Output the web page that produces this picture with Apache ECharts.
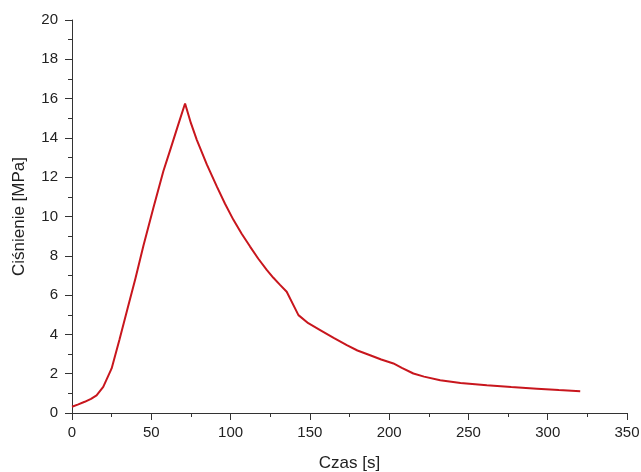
<!DOCTYPE html>
<html>
<head>
<meta charset="utf-8">
<script src="https://cdn.jsdelivr.net/npm/echarts@6/dist/echarts.min.js"></script>
<style>
  html, body { margin: 0; padding: 0; background: #fff; }
  #chart { width: 641px; height: 472px; }
</style>
</head>
<body>
<div id="chart"></div>
<script>
// czas [s] i ciśnienie [MPa]
var czas = [0, 4, 8, 12, 15.5, 19.7, 25, 30, 35, 40, 45, 51.3, 57.6, 61.8, 66.5, 71.3,
    75, 78.7, 85, 91.3, 96.5, 101.8, 107, 112.3, 117.5, 122.8, 127, 131.2, 135.4, 142.8,
    149, 156.5, 165, 173.3, 180, 188, 195, 202.7, 208, 215.3, 222, 232.2, 245, 261.6, 277, 293.2, 307, 320.5];
var cisnienie = [0.32, 0.44, 0.57, 0.72, 0.9, 1.33, 2.27, 3.75, 5.3, 6.85, 8.5, 10.43, 12.3, 13.35, 14.55, 15.75,
    14.75, 13.9, 12.65, 11.53, 10.65, 9.83, 9.12, 8.47, 7.85, 7.28, 6.88, 6.52, 6.17, 4.98,
    4.57, 4.22, 3.82, 3.45, 3.18, 2.94, 2.72, 2.52, 2.3, 2.01, 1.85, 1.67, 1.53, 1.41, 1.32, 1.24, 1.17, 1.11];

var xTicks = [0, 50, 100, 150, 200, 250, 300, 350];
var yTicks = [0, 2, 4, 6, 8, 10, 12, 14, 16, 18, 20];

var data = czas.map(function (t, i) { return [t, cisnienie[i]]; });

var chart = echarts.init(document.getElementById('chart'));

var axisCommon = {
    axisLine: { show: true, lineStyle: { color: '#333', width: 1 } },
    axisTick: { show: true, inside: false, length: 7, lineStyle: { color: '#333' } },
    minorTick: { show: true, splitNumber: 2, length: 4, lineStyle: { color: '#333' } },
    splitLine: { show: false },
    axisLabel: { color: '#222', fontSize: 15, fontFamily: 'Liberation Sans, Arial, sans-serif' },
    nameTextStyle: { color: '#222', fontSize: 17, fontFamily: 'Liberation Sans, Arial, sans-serif' }
};

var option = {
    animation: false,
    grid: { left: 72, right: 14, top: 20, bottom: 59, containLabel: false, outerBoundsMode: 'none' },
    xAxis: echarts.util.merge({
        type: 'value',
        min: xTicks[0],
        max: xTicks[xTicks.length - 1],
        interval: 50,
        name: 'Czas [s]',
        nameLocation: 'middle',
        nameGap: 42,
        axisLabel: { margin: 12 }
    }, axisCommon),
    yAxis: echarts.util.merge({
        type: 'value',
        min: yTicks[0],
        max: yTicks[yTicks.length - 1],
        interval: 2,
        name: 'Ciśnienie [MPa]',
        nameLocation: 'middle',
        nameGap: 44,
        axisLabel: { margin: 14 }
    }, axisCommon),
    series: [
        {
            type: 'line',
            data: data,
            showSymbol: false,
            smooth: false,
            lineStyle: { color: '#c8161d', width: 2 }
        }
    ]
};

chart.setOption(option);
</script>
</body>
</html>
